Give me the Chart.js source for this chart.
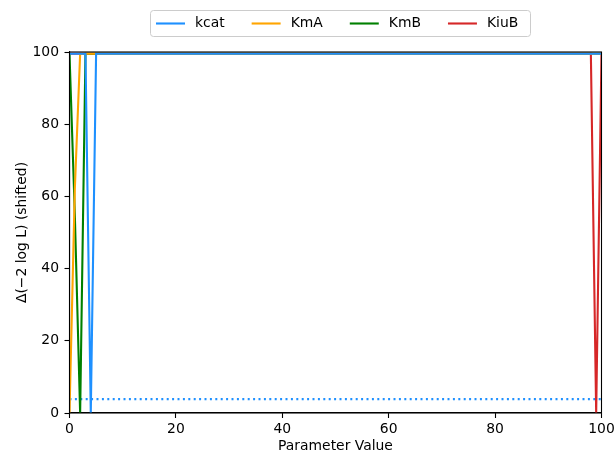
<!DOCTYPE html>
<html>
<head>
<meta charset="utf-8">
<script src="https://cdn.jsdelivr.net/npm/chart.js@4.4.0/dist/chart.umd.min.js"></script>
<style>
  html, body { margin: 0; padding: 0; background: #fff; }
  #wrap { width: 614px; height: 453px; }
</style>
</head>
<body>
<div id="wrap"><canvas id="c" width="614" height="453"></canvas></div>
<script>
// Profile curves (x = parameter value, y = Δ(−2 log L), clipped at the top)
const kcatX = [0, 3, 4, 5, 100];
const kcatY = [99.5, 99.5, 0, 99.5, 99.5];
const kmaX  = [0, 1, 2, 100];
const kmaY  = [0, 62, 99.5, 99.5];
const kmbX  = [0, 1, 2, 3, 100];
const kmbY  = [99.5, 55, 0, 99.5, 99.5];
const kiubX = [0, 98, 99, 100];
const kiubY = [99.5, 99.5, 0, 99.5];
const thresholdX = [0, 100];
const thresholdY = [3.84, 3.84];
const seriesNames = ['kcat', 'KmA', 'KmB', 'KiuB'];
const seriesColors = ['#1e90ff', '#ffa500', '#008000', '#d62728'];
const xTicks = [0, 20, 40, 60, 80, 100];
const yTicks = [0, 20, 40, 60, 80, 100];

const FONT = 'DejaVu Sans';
const FS = 13.9;

function pts(xs, ys) { return xs.map((x, i) => ({ x: x, y: ys[i] })); }

const seriesData = [pts(kcatX, kcatY), pts(kmaX, kmaY), pts(kmbX, kmbY), pts(kiubX, kiubY)];
const datasets = seriesNames.map((n, i) => ({
  label: n,
  data: seriesData[i],
  borderColor: seriesColors[i],
  backgroundColor: seriesColors[i],
  borderWidth: 2.1,
  pointRadius: 0,
  tension: 0,
  fill: false
}));
datasets.push({
  label: 'threshold',
  data: pts(thresholdX, thresholdY),
  borderColor: seriesColors[0],
  borderWidth: 2.1,
  borderDash: [2, 3.4],
  pointRadius: 0,
  fill: false
});

const framePlugin = {
  id: 'frame',
  afterDatasetsDraw(chart) {
    const { ctx, chartArea: a } = chart;
    ctx.save();
    ctx.strokeStyle = '#000';
    ctx.lineWidth = 1.1;
    ctx.strokeRect(a.left, a.top, a.right - a.left, a.bottom - a.top);
    ctx.restore();
  }
};

const legendPlugin = {
  id: 'mplLegend',
  afterDraw(chart) {
    const ctx = chart.ctx;
    ctx.save();
    ctx.font = FS + 'px "' + FONT + '"';
    const handleLen = 29, handlePad = 10, colSpace = 27, borderPad = 6;
    const startX = 156, cy = 23.5;
    let x = startX;
    const items = [];
    seriesNames.forEach((n, i) => {
      const w = ctx.measureText(n).width;
      items.push({ x: x, w: w, n: n, c: seriesColors[i] });
      x += handleLen + handlePad + w + colSpace;
    });
    const left = 150.5, right = 530.5;
    const top = 10.5, h = 26;
    ctx.beginPath();
    ctx.roundRect(left, top, right - left, h, 3);
    ctx.fillStyle = 'rgba(255,255,255,0.8)';
    ctx.fill();
    ctx.strokeStyle = '#cccccc';
    ctx.lineWidth = 1;
    ctx.stroke();
    items.forEach(it => {
      ctx.beginPath();
      ctx.strokeStyle = it.c;
      ctx.lineWidth = 2.1;
      ctx.moveTo(it.x, cy);
      ctx.lineTo(it.x + handleLen, cy);
      ctx.stroke();
      ctx.fillStyle = '#000';
      ctx.textBaseline = 'middle';
      ctx.textAlign = 'left';
      ctx.fillText(it.n, it.x + handleLen + handlePad, cy);
    });
    ctx.restore();
  }
};

const tickFont = { family: FONT, size: FS };

new Chart(document.getElementById('c'), {
  type: 'line',
  data: { datasets: datasets },
  options: {
    responsive: false,
    animation: false,
    devicePixelRatio: 1,
    layout: { padding: { top: 52, right: 12.5, left: 0, bottom: 0 } },
    plugins: {
      legend: { display: false },
      tooltip: { enabled: false }
    },
    scales: {
      x: {
        type: 'linear',
        min: 0, max: 100,
        afterBuildTicks(axis) { axis.ticks = xTicks.map(v => ({ value: v })); },
        ticks: { color: '#000', font: tickFont, padding: 3, maxRotation: 0, autoSkip: false },
        grid: { display: true, drawOnChartArea: false, drawTicks: true, tickLength: 5, color: '#000', tickWidth: 1.1 },
        border: { display: true, color: '#000', width: 1.1 },
        title: { display: true, text: 'Parameter Value', color: '#000', font: { family: FONT, size: FS, lineHeight: 1 }, padding: { top: 0, bottom: 0 } },
        afterFit(axis) { axis.height = 40; axis.paddingLeft = 0; axis.paddingRight = 0; }
      },
      y: {
        type: 'linear',
        min: 0, max: 100,
        afterBuildTicks(axis) { axis.ticks = yTicks.map(v => ({ value: v })); },
        ticks: { color: '#000', font: tickFont, padding: 5.5, autoSkip: false },
        grid: { display: true, drawOnChartArea: false, drawTicks: true, tickLength: 5, color: '#000', tickWidth: 1.1 },
        border: { display: true, color: '#000', width: 1.1 },
        title: { display: true, text: 'Δ(−2 log L) (shifted)', color: '#000', font: tickFont, padding: { top: 14, bottom: 0 } },
        afterFit(axis) { axis.width = 69.5; axis.paddingTop = 0; axis.paddingBottom = 0; }
      }
    }
  },
  plugins: [framePlugin, legendPlugin]
});
</script>
</body>
</html>
